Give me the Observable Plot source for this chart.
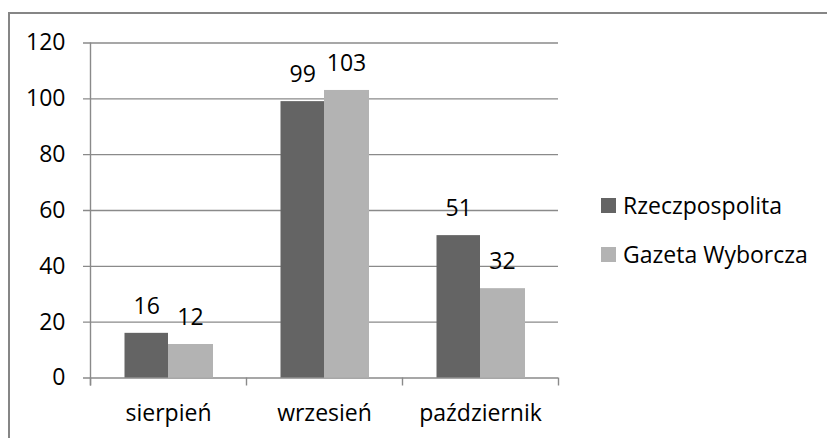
<!DOCTYPE html>
<html>
<head>
<meta charset="utf-8">
<script src="https://cdn.jsdelivr.net/npm/d3@7"></script>
<script src="https://cdn.jsdelivr.net/npm/@observablehq/plot@0.6"></script>
<style>
  html, body { margin: 0; padding: 0; background: #fff; overflow: hidden; }
  #wrap { position: relative; width: 827px; height: 438px; overflow: hidden; font-family: "Open Sans", sans-serif; }
  #border { position: absolute; left: 8px; top: 12px; right: -20px; bottom: -20px; border: 2px solid #868686; }
  #chart { position: absolute; left: 0; top: 0; }
  #legend { position: absolute; left: 601px; top: 0; font-size: 23px; color: #000; }
  .item { position: absolute; left: 0; white-space: nowrap; display: flex; align-items: center; height: 32px; }
  .sw { width: 15px; height: 15px; margin-right: 7px; }
</style>
</head>
<body>
<div id="wrap">
  <div id="border"></div>
  <div id="chart"></div>
  <div id="legend"></div>
</div>
<script>
const months = ["sierpień", "wrzesień", "październik"];
const series = ["Rzeczpospolita", "Gazeta Wyborcza"];
const rzeczpospolita = [16, 99, 51];
const gazetaWyborcza = [12, 103, 32];
const yTicks = [0, 20, 40, 60, 80, 100, 120];
const colors = ["#646464", "#b3b3b3"];

const dataR = months.map((m, i) => ({month: m, series: series[0], value: rzeczpospolita[i]}));
const dataG = months.map((m, i) => ({month: m, series: series[1], value: gazetaWyborcza[i]}));

const gridColor = "#8a8a8a";

const chart = Plot.plot({
  width: 827,
  height: 438,
  marginLeft: 90,
  marginRight: 269,
  marginTop: 42.5,
  marginBottom: 60.5,
  style: {fontFamily: "'Open Sans', sans-serif", fontSize: "23px", color: "#000", background: "transparent", overflow: "visible"},
  x: {domain: months, padding: 0, label: null},
  y: {domain: [0, 120], label: null},
  color: {domain: series, range: colors},
  marks: [
    Plot.ruleY(yTicks, {y: d => d, stroke: gridColor, strokeWidth: 1.4, insetLeft: -7}),
    Plot.ruleX(months, {x: d => d, dx: -78, y1: 0, y2: 0, insetBottom: -8, stroke: gridColor, strokeWidth: 1.4}),
    Plot.ruleX([months[months.length - 1]], {x: d => d, dx: 78, y1: 0, y2: 0, insetBottom: -8, stroke: gridColor, strokeWidth: 1.4}),
    Plot.ruleX([months[0]], {x: d => d, dx: -78, insetBottom: -8, stroke: gridColor, strokeWidth: 1.4}),
    Plot.barY(dataR, {x: "month", y: "value", fill: "series", insetLeft: 34.5, insetRight: 78}),
    Plot.barY(dataG, {x: "month", y: "value", fill: "series", insetLeft: 78, insetRight: 33}),
    Plot.text(dataR, {x: "month", y: "value", text: d => String(d.value), dx: -21.75, dy: -27, fill: "#000"}),
    Plot.text(dataG, {x: "month", y: "value", text: d => String(d.value), dx: 22, dy: -27, fill: "#000"}),
    Plot.axisY({ticks: yTicks, tickSize: 0, tickPadding: 25, label: null}),
    Plot.axisX({tickSize: 0, tickPadding: 27, label: null})
  ]
});
document.getElementById("chart").appendChild(chart);

const legend = document.getElementById("legend");
const centers = [205, 254];
series.forEach((s, i) => {
  const item = document.createElement("div");
  item.className = "item";
  item.style.top = (centers[i] - 16) + "px";
  const sw = document.createElement("div");
  sw.className = "sw";
  sw.style.background = colors[i];
  const t = document.createElement("span");
  t.textContent = s;
  item.appendChild(sw);
  item.appendChild(t);
  legend.appendChild(item);
});
</script>
</body>
</html>
